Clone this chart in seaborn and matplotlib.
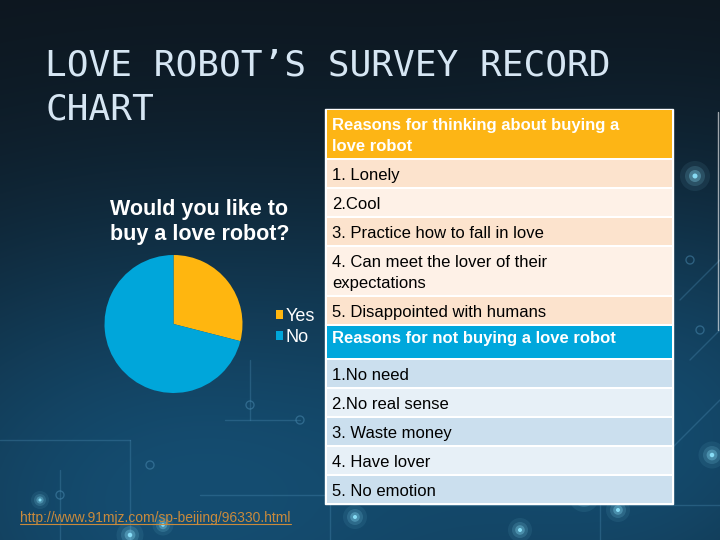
import numpy as np
import seaborn as sns
import matplotlib.pyplot as plt
from matplotlib.patches import Rectangle, Circle

# survey data
answers = ['Yes', 'No']
shares = [29, 71]
pie_colors = ['#FFB60F', '#00A6DA']

title_lines = ["LOVE ROBOT\u2019S SURVEY RECORD", "CHART"]
pie_title = "Would you like to\nbuy a love robot?"

buy_header = "Reasons for thinking about buying a\nlove robot"
buy_reasons = ["1. Lonely", "2.Cool", "3. Practice how to fall in love",
               "4. Can meet the lover of their\nexpectations", "5. Disappointed with humans"]
not_header = "Reasons for not buying a love robot"
not_reasons = ["1.No need", "2.No real sense", "3. Waste money", "4. Have lover", "5. No emotion"]
source_url = "http://www.91mjz.com/sp-beijing/96330.html"

sns.set_theme(style="white")
plt.rcParams['font.family'] = ['Liberation Sans', 'DejaVu Sans']

W, H = 720, 540
fig = plt.figure(figsize=(7.2, 5.4), dpi=100)
bg = fig.add_axes([0, 0, 1, 1])
bg.set_xlim(0, W)
bg.set_ylim(H, 0)
bg.axis('off')

# dark blue slide background
yy, xx = np.mgrid[0:H, 0:W]
dark = np.array([0.05, 0.08, 0.11])
blue = np.array([0.08, 0.30, 0.44])
glow = np.exp(-(((xx - 180) / 430.0) ** 2 + ((yy - 500) / 300.0) ** 2))
glow2 = 0.7 * np.exp(-(((xx - 700) / 260.0) ** 2 + ((yy - 420) / 260.0) ** 2))
mix = np.clip(glow + glow2, 0, 1)[..., None]
img = dark * (1 - mix) + blue * mix
bg.imshow(img, extent=(0, W, H, 0), aspect='auto', zorder=0)

# faint circuit decoration
lc = '#4a8ab0'
for seg in [((0, 440), (130, 440)), ((130, 440), (130, 540)), ((60, 470), (60, 540)),
            ((200, 495), (330, 495)), ((330, 495), (330, 540)), ((420, 505), (720, 505)),
            ((600, 505), (600, 540)), ((680, 300), (720, 260)), ((690, 360), (720, 330)),
            ((660, 460), (720, 400)), ((250, 360), (250, 420)), ((225, 420), (300, 420))]:
    (x0, y0), (x1, y1) = seg
    bg.plot([x0, x1], [y0, y1], color=lc, lw=1, alpha=0.35, zorder=1)
for cx, cy in [(60, 495), (150, 465), (250, 405), (300, 420), (690, 260), (700, 330), (650, 470)]:
    bg.add_patch(Circle((cx, cy), 4, fill=False, ec=lc, lw=1, alpha=0.5, zorder=1))
for cx, cy, r in [(695, 176, 10), (712, 455, 9), (584, 497, 10), (618, 510, 8), (355, 517, 8),
                  (130, 535, 9), (163, 525, 7), (520, 530, 8), (40, 500, 6)]:
    for k, a in [(3.0, 0.08), (2.0, 0.15), (1.2, 0.3), (0.5, 0.9)]:
        bg.add_patch(Circle((cx, cy), r * k / 2, color='#8fe6ff', alpha=a, lw=0, zorder=1))

# title
for i, line in enumerate(title_lines):
    bg.text(45, 75 + 44 * i, line, family=['DejaVu Sans Mono'],
            fontsize=26, color='#d6e6f3', va='baseline', ha='left', zorder=3)


def draw_table(top, header, rows, head_color, row_colors, head_pad=5, head_extra=0):
    x0, x1 = 325, 673
    entries = [(header, head_color, True)] + [(r, row_colors[i % 2], False) for i, r in enumerate(rows)]
    heights = [6 + 21 * (t.count('\n') + 1) for t, _, _ in entries]
    heights[0] += head_extra
    total = sum(heights) + 2 * len(heights)
    bg.add_patch(Rectangle((x0, top), x1 - x0, total, color='white', zorder=2))
    y = top + 1
    for (text, col, is_head), h in zip(entries, heights):
        bg.add_patch(Rectangle((x0 + 1.5, y), x1 - x0 - 3, h, color=col, lw=0, zorder=2))
        n = text.count('\n') + 1
        pad = head_pad if is_head else 5
        bg.text(x0 + 7, y + pad + 10.5 * n, text, fontsize=12,
                color='white' if is_head else 'black', fontweight='bold' if is_head else 'normal',
                va='center', ha='left', linespacing=1.45, zorder=3)
        y += h + 2
    return top + total


end1 = draw_table(109, buy_header, buy_reasons, '#FDB515', ['#FCE3CD', '#FEF1E7'])
draw_table(end1, not_header, not_reasons, '#00A7DC', ['#CBDFEE', '#E7F0F7'],
           head_pad=2, head_extra=5)
bg.plot([718, 718], [112, 330], color='white', lw=1, alpha=0.6, zorder=2)

# pie chart
cx, cy, r = 173.5, 324, 69
pax = fig.add_axes([(cx - r) / W, (H - cy - r) / H, 2 * r / W, 2 * r / H])
wedges, _ = pax.pie(shares, colors=pie_colors, startangle=90, counterclock=False,
                    wedgeprops=dict(linewidth=0))
pax.set_xlim(-1, 1)
pax.set_ylim(-1, 1)
pax.set_aspect('auto')
fig.legend(wedges, answers, loc='center left', bbox_to_anchor=(267 / W, 1 - 327 / H),
           frameon=False, fontsize=13, labelcolor='white', handlelength=0.4,
           handleheight=0.4, handletextpad=0.15, labelspacing=0.2, borderpad=0)

bg.text(110, 222, pie_title, fontsize=15.5, fontweight='bold', color='white',
        va='center', ha='left', linespacing=1.2, zorder=3)

# source link
url = bg.text(20, 518, source_url, fontsize=10, color='#C98A3C', va='center', ha='left', zorder=3)
fig.canvas.draw()
bb = url.get_window_extent().transformed(bg.transData.inverted())
bg.plot([bb.x0, bb.x1], [max(bb.y0, bb.y1) - 1.5] * 2, color='#C98A3C', lw=0.8, zorder=3)

fig.savefig('out.png', dpi=100)
